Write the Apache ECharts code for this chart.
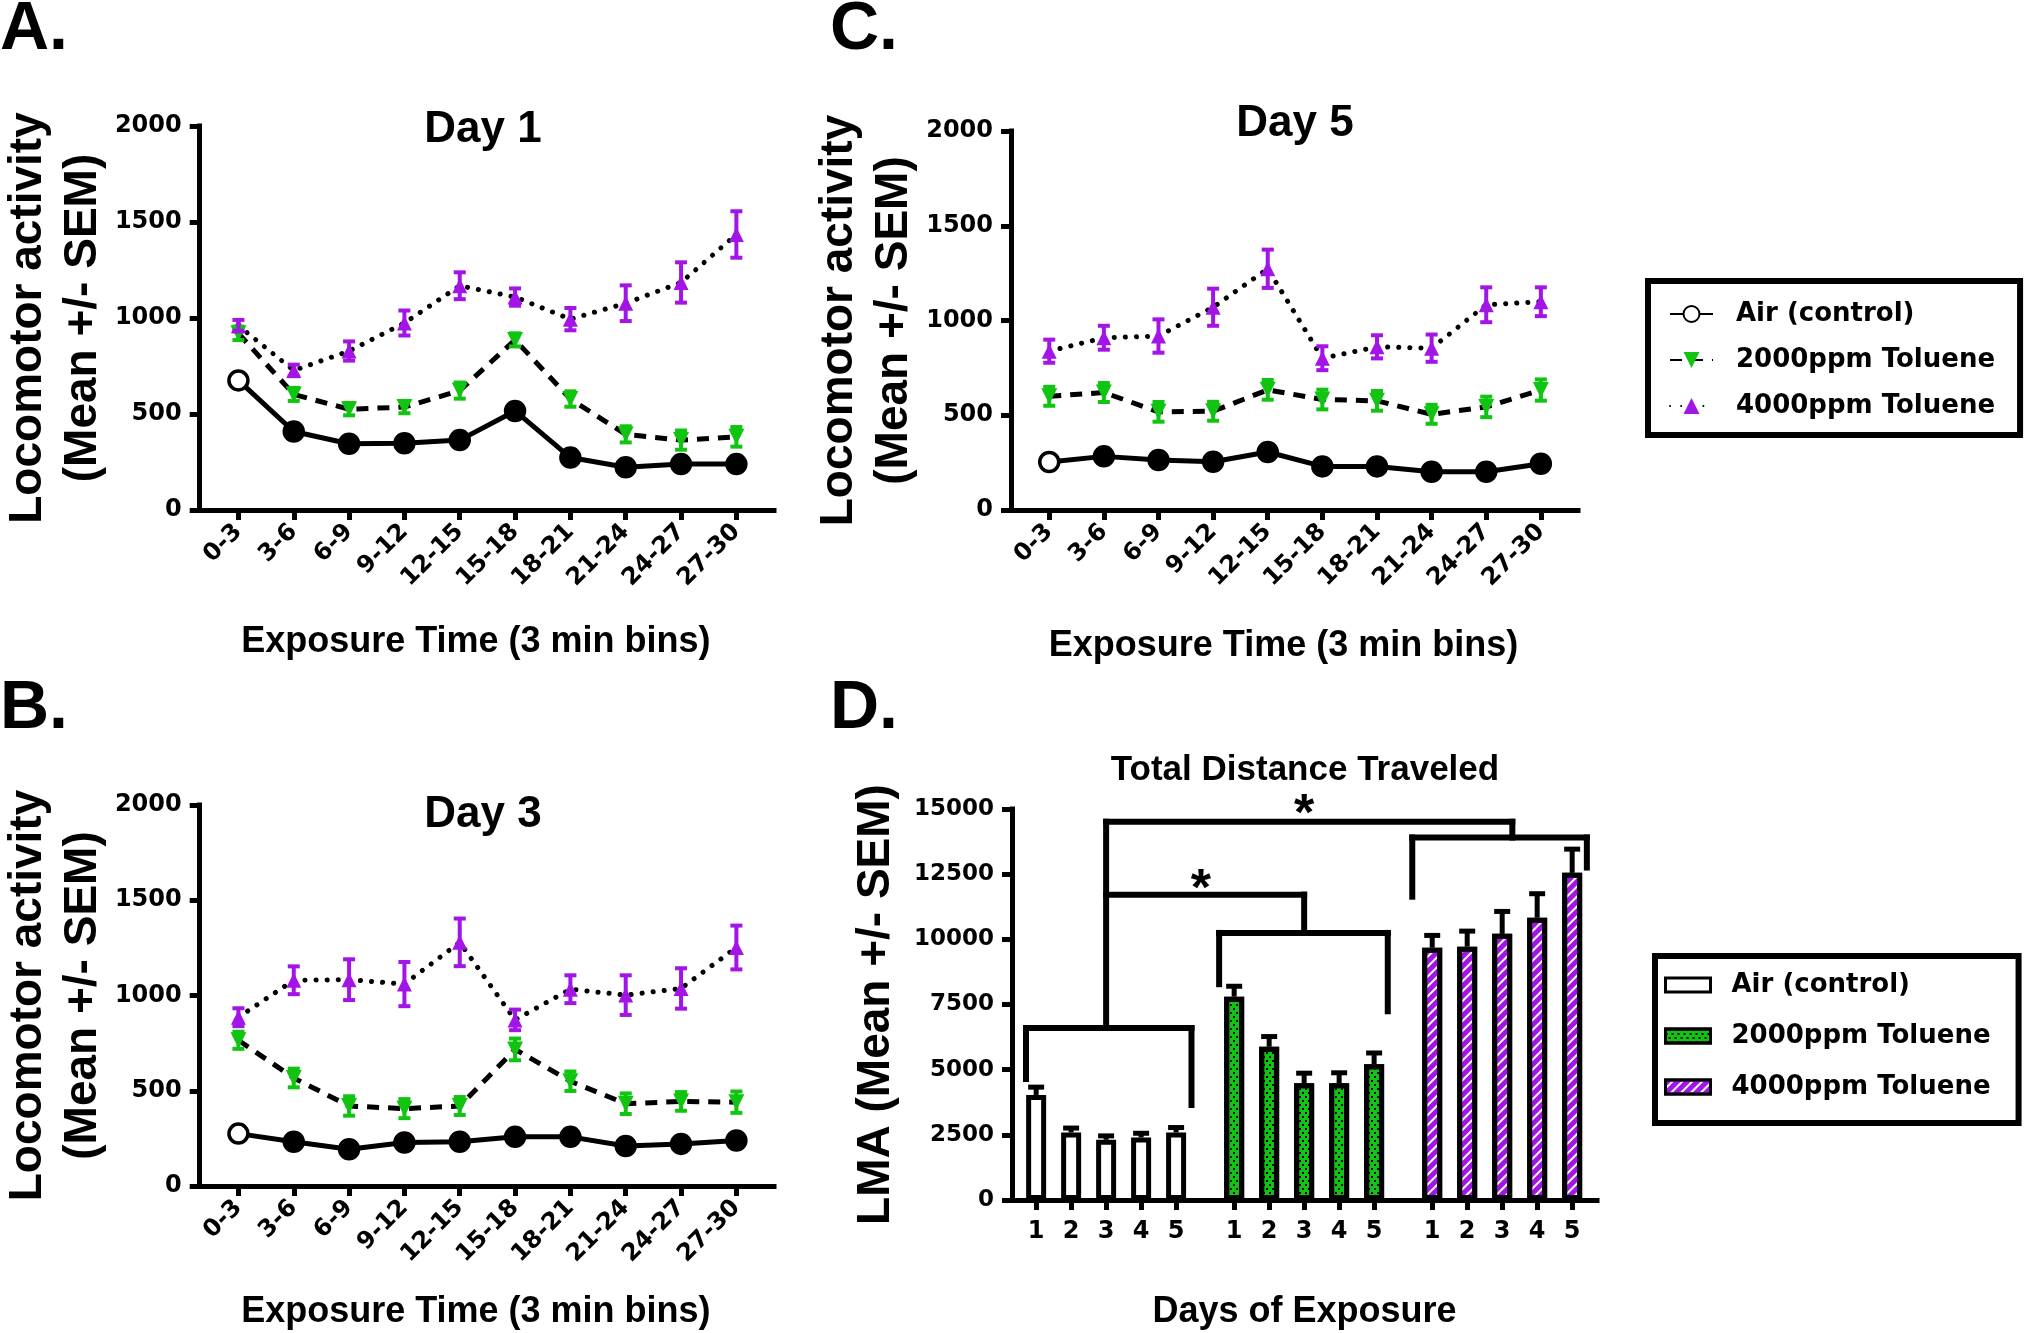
<!DOCTYPE html>
<html>
<head>
<meta charset="utf-8">
<script src="https://cdn.jsdelivr.net/npm/echarts@6/dist/echarts.min.js"></script>
<style>
html,body{margin:0;padding:0;background:#fff;}
#main{width:2026px;height:1333px;}
</style>
</head>
<body>
<div id="main"></div>
<script>
// ---------------- DATA ----------------
const timeBins = ['0-3','3-6','6-9','9-12','12-15','15-18','18-21','21-24','24-27','27-30'];
const seriesNames = ['Air (control)','2000ppm Toluene','4000ppm Toluene'];

// Day 1
const day1Air      = [675, 409, 345, 348, 364, 516, 273, 223, 239, 239];
const day1Tol2000  = [920, 602, 525, 536, 622, 886, 578, 394, 364, 381];
const day1Tol2000Sem = [35, 34, 32, 32, 42, 34, 40, 42, 50, 51];
const day1Tol4000  = [960, 727, 828, 974, 1168, 1109, 994, 1077, 1185, 1435];
const day1Tol4000Sem = [30, 30, 50, 65, 70, 45, 58, 93, 105, 121];

// Day 3
const day3Air      = [275, 232, 193, 228, 232, 258, 258, 210, 221, 239];
const day3Tol2000  = [765, 567, 420, 406, 420, 717, 550, 432, 444, 440];
const day3Tol2000Sem = [45, 49, 51, 50, 47, 57, 51, 54, 49, 56];
const day3Tol4000  = [886, 1080, 1083, 1060, 1279, 872, 1033, 1002, 1037, 1252];
const day3Tol4000Sem = [47, 73, 107, 116, 125, 54, 73, 104, 106, 115];

// Day 5
const day5Air      = [253, 283, 264, 255, 306, 230, 230, 202, 202, 244];
const day5Tol2000  = [600, 620, 518, 521, 634, 583, 576, 505, 544, 633];
const day5Tol2000Sem = [50, 50, 52, 50, 52, 52, 52, 50, 54, 56];
const day5Tol4000  = [838, 909, 918, 1070, 1273, 801, 861, 854, 1083, 1099];
const day5Tol4000Sem = [61, 63, 88, 98, 101, 63, 61, 72, 92, 76];

// Total distance traveled (panel D)
const exposureDays = ['1','2','3','4','5'];
const lmaAir      = [4030, 2590, 2310, 2400, 2590];
const lmaAirSem   = [300, 170, 150, 160, 190];
const lmaTol2000  = [7800, 5880, 4480, 4480, 5210];
const lmaTol2000Sem = [400, 390, 385, 400, 430];
const lmaTol4000  = [9680, 9720, 10210, 10830, 12550];
const lmaTol4000Sem = [470, 595, 860, 920, 910];

// Significance brackets (data units: x in bar slots, y in LMA)
const bracketSegments = [
  [-0.29, 4641, -0.29, 6598], [-0.29, 6598, 4.44, 6598], [4.44, 6598, 4.44, 3644], [2.0, 6598, 2.0, 14511],
  [5.23, 8279, 5.23, 10246], [5.23, 10246, 10.05, 10246], [10.05, 10246, 10.05, 7240], [7.66, 10246, 7.66, 11714],
  [2.0, 11714, 7.66, 11714],
  [10.75, 11635, 10.75, 13905], [10.75, 13905, 15.74, 13905], [15.74, 13905, 15.74, 12754], [13.61, 13905, 13.61, 14511],
  [2.0, 14511, 13.61, 14511]
];
const starMarks = [[4.71, 12275], [7.66, 15152]];

// ---------------- STYLE / LAYOUT ----------------
const GREEN = '#12c412', PURPLE = '#a314e6';
const TF = 'Liberation Sans';
const NUMF = 'DejaVu Sans';
const GROUP_STEP = 5.66;
const binPositions = timeBins.map((_, i) => i);
const dPositions = [];
const dLabelOf = [];
[0,1,2].forEach(g => exposureDays.forEach((d, i) => { dPositions.push(g * GROUP_STEP + i); dLabelOf.push(d); }));

const grids = [
  {left:193, top:126, width:581, height:384},
  {left:193, top:805, width:581, height:384},
  {left:1011, top:131, width:567, height:379},
  {left:1012, top:809, width:585, height:391}
];

const axisLineStyle = {show:true, onZero:false, lineStyle:{color:'#000', width:5, cap:'square'}};
const tickStyle = {color:'#000', width:5};

function lineXAxis(gi, nameGap) {
  return {
    type:'value', gridIndex:gi, min:-0.7, max:9.68,
    name:'Exposure Time (3 min bins)', nameLocation:'middle', nameGap,
    nameTextStyle:{fontFamily:TF, fontWeight:'bold', fontSize:36, lineHeight:40, color:'#000', padding:[0,22,0,0]},
    axisLine:axisLineStyle,
    axisTick:{show:true, customValues:binPositions, length:10, lineStyle:tickStyle},
    axisLabel:{show:true, customValues:binPositions, rotate:45, margin:18,
      formatter:v => timeBins[Math.round(v)],
      fontFamily:NUMF, fontWeight:'bold', fontSize:24, color:'#000'},
    splitLine:{show:false}
  };
}
function lineYAxis(gi, nameGap) {
  return {
    type:'value', gridIndex:gi, min:0, max:2000, interval:500,
    name:'Locomotor activity\n(Mean +/- SEM)', nameLocation:'middle', nameRotate:90, nameGap,
    nameTextStyle:{fontFamily:TF, fontWeight:'bold', fontSize:46, lineHeight:55, color:'#000'},
    axisLine:axisLineStyle,
    axisTick:{show:true, length:10, lineStyle:tickStyle},
    axisLabel:{margin:18, formatter:v => String(v), fontFamily:NUMF, fontWeight:'bold', fontSize:24, color:'#000'},
    splitLine:{show:false}
  };
}

function errSeries(gi, means, sems, color, capHalf, lw, upOnly, xs) {
  return {
    type:'custom', name:'err', xAxisIndex:gi, yAxisIndex:gi, z:5, silent:true, clip:false,
    data: means.map((m, i) => [xs ? xs[i] : i, upOnly ? m : m - sems[i], m + sems[i]]),
    encode:{x:0, y:[1,2]},
    renderItem:(params, api) => {
      const x = api.value(0);
      const lo = api.coord([x, api.value(1)]);
      const hi = api.coord([x, api.value(2)]);
      const mk = () => ({stroke:color, lineWidth:lw});
      const ch = [
        {type:'line', shape:{x1:lo[0], y1:lo[1], x2:hi[0], y2:hi[1]}, style:mk()},
        {type:'line', shape:{x1:hi[0]-capHalf, y1:hi[1], x2:hi[0]+capHalf, y2:hi[1]}, style:mk()}
      ];
      if (!upOnly) ch.push({type:'line', shape:{x1:lo[0]-capHalf, y1:lo[1], x2:lo[0]+capHalf, y2:lo[1]}, style:mk()});
      return {type:'group', children:ch};
    }
  };
}

function panelSeries(gi, air, t2, t2s, t4, t4s) {
  return [
    {type:'line', name:seriesNames[0], xAxisIndex:gi, yAxisIndex:gi, z:3,
      data: air.map((v, i) => i === 0 ? {value:[i, v]} : {value:[i, v], itemStyle:{color:'#000'}}),
      symbol:'circle', symbolSize:19,
      lineStyle:{color:'#000', width:5},
      itemStyle:{color:'#fff', borderColor:'#000', borderWidth:3.5}},
    {type:'line', name:seriesNames[1], xAxisIndex:gi, yAxisIndex:gi, z:3,
      data: t2.map((v, i) => [i, v]),
      symbol:'triangle', symbolRotate:180, symbolSize:16,
      lineStyle:{color:'#000', width:5, type:[12, 9]},
      itemStyle:{color:GREEN, borderWidth:0}},
    {type:'line', name:seriesNames[2], xAxisIndex:gi, yAxisIndex:gi, z:3,
      data: t4.map((v, i) => [i, v]),
      symbol:'triangle', symbolSize:15,
      lineStyle:{color:'#000', width:5, type:[0.1, 11], cap:'round'},
      itemStyle:{color:PURPLE, borderWidth:0}},
    errSeries(gi, t2, t2s, GREEN, 6, 4, false),
    errSeries(gi, t4, t4s, PURPLE, 6, 4, false)
  ];
}

const barDefs = [
  {name:'D|' + seriesNames[0], means:lmaAir, sems:lmaAirSem, itemStyle:{color:'#fff', borderColor:'#000', borderWidth:5}},
  {name:'D|' + seriesNames[1], means:lmaTol2000, sems:lmaTol2000Sem, itemStyle:{color:GREEN, borderColor:'#000', borderWidth:5,
      decal:{symbol:'rect', symbolSize:1, dashArrayX:[[2,4],[0,3,2,1]], dashArrayY:[2,2], color:'#000'}}},
  {name:'D|' + seriesNames[2], means:lmaTol4000, sems:lmaTol4000Sem, itemStyle:{color:'#fff', borderColor:'#000', borderWidth:5,
      decal:{symbol:'rect', symbolSize:1, dashArrayX:[1,0], dashArrayY:[5,2], rotation:-Math.PI/4, color:PURPLE}}}
];

const barSeries = [];
barDefs.forEach((b, g) => {
  const xs = b.means.map((_, i) => g * GROUP_STEP + i);
  barSeries.push({type:'bar', name:b.name, xAxisIndex:3, yAxisIndex:3, barWidth:20, barGap:'-100%', z:2,
    data: b.means.map((v, i) => [xs[i], v]), itemStyle:b.itemStyle});
  barSeries.push(errSeries(3, b.means, b.sems, '#000', 8, 5, true, xs));
});

barSeries.push({
  type:'custom', name:'brackets', xAxisIndex:3, yAxisIndex:3, z:6, silent:true, clip:false,
  data: bracketSegments, encode:{x:[0,2], y:[1,3]},
  renderItem:(params, api) => {
    const p1 = api.coord([api.value(0), api.value(1)]);
    const p2 = api.coord([api.value(2), api.value(3)]);
    return {type:'line', shape:{x1:p1[0], y1:p1[1], x2:p2[0], y2:p2[1]}, style:{stroke:'#000', lineWidth:6, lineCap:'square'}};
  }
});
barSeries.push({
  type:'custom', name:'stars', xAxisIndex:3, yAxisIndex:3, z:6, silent:true, clip:false,
  data: starMarks, encode:{x:0, y:1},
  renderItem:(params, api) => {
    const p = api.coord([api.value(0), api.value(1)]);
    return {type:'text', x:p[0], y:p[1] + 11, style:{text:'*', font:'bold 52px "Liberation Sans"', fill:'#000',
      align:'center', verticalAlign:'middle', textAlign:'center', textVerticalAlign:'middle'}};
  }
});

function gtext(text, x, y, font, align) {
  return {type:'text', x, y, silent:true, style:{text, font, fill:'#000',
    align:align || 'center', verticalAlign:'middle', textAlign:align || 'center', textVerticalAlign:'middle'}};
}

const option = {
  animation:false,
  backgroundColor:'#fff',
  grid: grids,
  xAxis: [
    lineXAxis(0, 112), lineXAxis(1, 106), lineXAxis(2, 116),
    {type:'value', gridIndex:3, min:-0.69, max:16.03,
     name:'Days of Exposure', nameLocation:'middle', nameGap:92,
     nameTextStyle:{fontFamily:TF, fontWeight:'bold', fontSize:36, lineHeight:40, color:'#000'},
     axisLine:axisLineStyle,
     axisTick:{show:true, customValues:dPositions, length:10, lineStyle:tickStyle},
     axisLabel:{show:true, customValues:dPositions, margin:20,
       formatter:v => { const k = dPositions.findIndex(p => Math.abs(p - v) < 1e-6); return k >= 0 ? dLabelOf[k] : ''; },
       fontFamily:NUMF, fontWeight:'bold', fontSize:24, color:'#000'},
     splitLine:{show:false}}
  ],
  yAxis: [
    lineYAxis(0, 87), lineYAxis(1, 87), lineYAxis(2, 83),
    {type:'value', gridIndex:3, min:0, max:15000, interval:2500,
     name:'LMA (Mean +/- SEM)', nameLocation:'middle', nameRotate:90, nameGap:108,
     nameTextStyle:{fontFamily:TF, fontWeight:'bold', fontSize:46, lineHeight:55, color:'#000'},
     axisLine:axisLineStyle,
     axisTick:{show:true, length:10, lineStyle:tickStyle},
     axisLabel:{margin:18, formatter:v => String(v), fontFamily:NUMF, fontWeight:'bold', fontSize:23, color:'#000'},
     splitLine:{show:false}}
  ],
  legend: [
    {data:seriesNames, orient:'vertical', left:1648, top:281, selectedMode:false,
     borderColor:'#000', borderWidth:6, backgroundColor:'#fff', padding:[18,25,14,21],
     itemGap:16, itemWidth:43, itemHeight:20,
     textStyle:{fontFamily:NUMF, fontWeight:'bold', fontSize:26, lineHeight:30, color:'#000', padding:[0,0,0,18]}},
    {data:barDefs.map(b => b.name), orient:'vertical', left:1655, top:956, selectedMode:false,
     formatter:n => n.replace(/^D\|/, ''),
     borderColor:'#000', borderWidth:6, backgroundColor:'#fff', padding:[14,28,21,9],
     itemGap:21, itemWidth:45, itemHeight:14, icon:'rect',
     itemStyle:{borderWidth:3, borderColor:'#000'},
     textStyle:{fontFamily:NUMF, fontWeight:'bold', fontSize:26, lineHeight:30, color:'#000', padding:[0,0,0,16]}}
  ],
  graphic: [
    gtext('A.', 0, 30, 'bold 68px "Liberation Sans"', 'left'),
    gtext('B.', 0, 709, 'bold 68px "Liberation Sans"', 'left'),
    gtext('C.', 830, 30, 'bold 68px "Liberation Sans"', 'left'),
    gtext('D.', 830, 709, 'bold 68px "Liberation Sans"', 'left'),
    gtext('Day 1', 483, 130, 'bold 44px "Liberation Sans"'),
    gtext('Day 3', 483, 815, 'bold 44px "Liberation Sans"'),
    gtext('Day 5', 1295, 124, 'bold 44px "Liberation Sans"'),
    gtext('Total Distance Traveled', 1305, 770, 'bold 35px "Liberation Sans"')
  ],
  series: [
    ...panelSeries(0, day1Air, day1Tol2000, day1Tol2000Sem, day1Tol4000, day1Tol4000Sem),
    ...panelSeries(1, day3Air, day3Tol2000, day3Tol2000Sem, day3Tol4000, day3Tol4000Sem),
    ...panelSeries(2, day5Air, day5Tol2000, day5Tol2000Sem, day5Tol4000, day5Tol4000Sem),
    ...barSeries
  ]
};

const chart = echarts.init(document.getElementById('main'), null, {renderer:'canvas'});
chart.setOption(option);
</script>
</body>
</html>
